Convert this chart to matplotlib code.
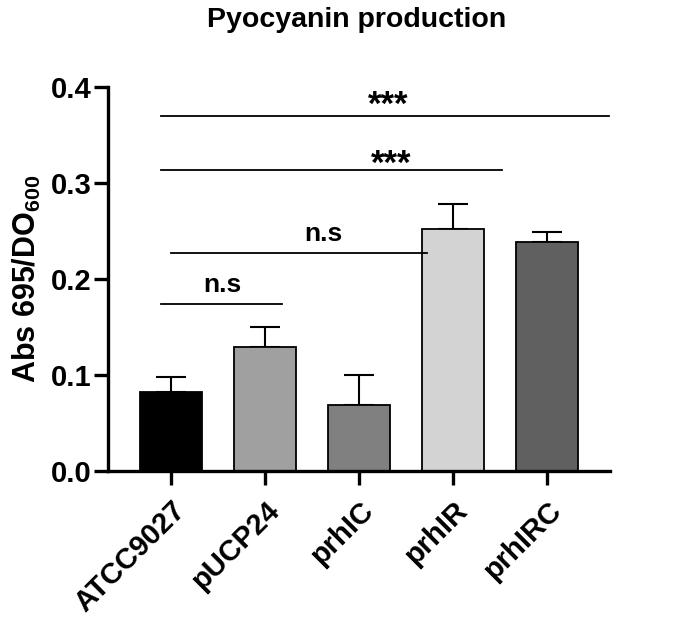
import matplotlib
matplotlib.use("Agg")
import matplotlib.pyplot as plt

plt.rcParams['font.family'] = ['Liberation Sans', 'DejaVu Sans']
plt.rcParams['mathtext.fontset'] = 'custom'
plt.rcParams['mathtext.rm'] = 'Liberation Sans:bold'
plt.rcParams['mathtext.bf'] = 'Liberation Sans:bold'

categories = ["ATCC9027", "pUCP24", "prhIC", "prhIR", "prhIRC"]
means = [0.082, 0.129, 0.069, 0.252, 0.239]
errors = [0.016, 0.021, 0.031, 0.026, 0.010]
colors = ["#000000", "#a0a0a0", "#808080", "#d3d3d3", "#606060"]

# significance brackets
sig_x0 = [-0.106, -0.106, 0.0, -0.106]
sig_x1 = [4.66, 3.52, 2.72, 1.18]
sig_y = [0.370, 0.3135, 0.227, 0.174]
sig_labels = ["***", "***", "n.s", "n.s"]
sig_label_x = [2.31, 2.34, 1.62, 0.54]
sig_label_y = [0.3705, 0.309, 0.2396, 0.1865]

fig = plt.figure(figsize=(6.85, 6.2), dpi=100)
ax = fig.add_axes([0.158, 0.240, 0.733, 0.620])

x = list(range(len(categories)))
ax.bar(x, means, width=0.66, color=colors, edgecolor="black", linewidth=1.3, zorder=2)
ax.errorbar(x, means, yerr=[[0]*len(errors), errors], fmt="none", ecolor="black",
            elinewidth=1.5, capsize=11, capthick=1.5, zorder=1)

for x0, x1, y, lab, lx, ly in zip(sig_x0, sig_x1, sig_y, sig_labels, sig_label_x, sig_label_y):
    ax.plot([x0, x1], [y, y], color="black", lw=1.3, clip_on=False)
    fs = 25 if lab == "***" else 19
    ax.text(lx, ly, lab, ha="center", va="baseline", fontsize=fs, fontweight="bold")

ax.set_xlim(-0.67, 4.67)
ax.set_ylim(0, 0.4)
ax.set_yticks([0.0, 0.1, 0.2, 0.3, 0.4])
ax.set_yticklabels(["0.0", "0.1", "0.2", "0.3", "0.4"], fontsize=21, fontweight="bold")
ax.set_xticks(x)
ax.set_xticklabels(categories, rotation=45, ha="right", rotation_mode="anchor",
                   fontsize=21, fontweight="bold")

for s in ["top", "right"]:
    ax.spines[s].set_visible(False)
for s in ["left", "bottom"]:
    ax.spines[s].set_linewidth(2.4)
ax.tick_params(axis="both", width=2.4, length=10)
ax.tick_params(axis="y", pad=2)
ax.tick_params(axis="x", pad=8)

ax.set_ylabel(r"Abs 695/DO$_{\mathrm{600}}$", fontsize=22, fontweight="bold")
ax.yaxis.set_label_coords(-0.13, 0.50)
fig.text(0.521, 0.968, "Pyocyanin production", ha="center", va="center",
         fontsize=20.5, fontweight="bold")

fig.savefig("out.png", dpi=100)
